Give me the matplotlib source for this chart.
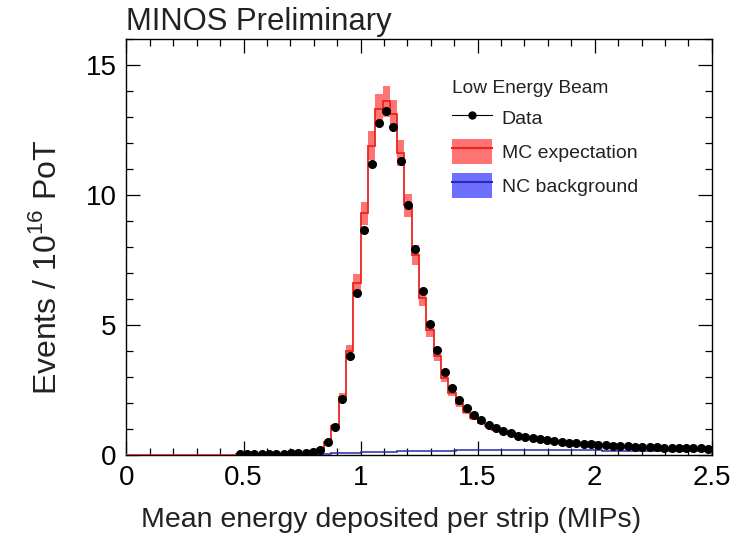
import numpy as np
import matplotlib.pyplot as plt
from matplotlib.lines import Line2D
from matplotlib.patches import Patch
from matplotlib.ticker import MultipleLocator

plt.rcParams['font.family'] = ['Liberation Sans', 'DejaVu Sans']
plt.rcParams['mathtext.fontset'] = 'custom'
plt.rcParams['mathtext.rm'] = 'Liberation Sans'

# 80 bins from 0 to 2.5 MIPs
n_bins = 80
x_max = 2.5

# data points start at bin 15 (0.48 MIPs)
data_first_bin = 15
data = [0.04, 0.04, 0.04, 0.04, 0.05, 0.05, 0.05, 0.06, 0.07, 0.09,
        0.13, 0.21, 0.49, 1.09, 2.15, 3.82, 6.22, 8.65, 11.2, 12.78,
        13.23, 12.63, 11.3, 9.63, 7.91, 6.32, 5.04, 4.04, 3.2, 2.58,
        2.12, 1.79, 1.54, 1.35, 1.17, 1.03, 0.92, 0.83, 0.75, 0.70,
        0.64, 0.60, 0.56, 0.53, 0.50, 0.47, 0.45, 0.43, 0.41, 0.39,
        0.37, 0.36, 0.34, 0.33, 0.32, 0.31, 0.30, 0.29, 0.28, 0.28,
        0.27, 0.27, 0.26, 0.26, 0.25]

# MC expectation, all 80 bins
mc = [0.0] * 15 + [
    0.03, 0.03, 0.03, 0.04, 0.04, 0.05, 0.05, 0.06, 0.07, 0.09,
    0.13, 0.22, 0.50, 1.10, 2.24, 4.0, 6.6, 9.3, 11.9, 13.3,
    13.6, 13.1, 11.6, 9.6, 7.7, 6.05, 4.8, 3.8, 2.98, 2.4,
    1.97, 1.66, 1.42, 1.25, 1.1, 0.98, 0.88, 0.80, 0.73, 0.67,
    0.62, 0.58, 0.55, 0.52, 0.49, 0.46, 0.44, 0.42, 0.40, 0.38,
    0.36, 0.35, 0.33, 0.32, 0.31, 0.30, 0.29, 0.28, 0.28, 0.27,
    0.27, 0.26, 0.26, 0.25, 0.25]

mc_err = [0.0] * 15 + [
    0.01, 0.01, 0.01, 0.01, 0.01, 0.01, 0.01, 0.01, 0.01, 0.02,
    0.02, 0.03, 0.05, 0.08, 0.15, 0.25, 0.35, 0.45, 0.55, 0.6,
    0.6, 0.55, 0.5, 0.45, 0.38, 0.3, 0.25, 0.2, 0.16, 0.13,
    0.11, 0.09, 0.08, 0.07, 0.06, 0.05, 0.05, 0.04, 0.04, 0.04,
    0.03, 0.03, 0.03, 0.03, 0.03, 0.03, 0.02, 0.02, 0.02, 0.02,
    0.02, 0.02, 0.02, 0.02, 0.02, 0.02, 0.02, 0.02, 0.02, 0.02,
    0.02, 0.02, 0.02, 0.02, 0.02]

# NC background, starts at bin 24 (0.75 MIPs)
nc_first_bin = 24
nc = [0.02, 0.03, 0.04, 0.05, 0.06, 0.07, 0.08, 0.09, 0.11, 0.12,
      0.12, 0.13, 0.13, 0.14, 0.14, 0.15, 0.15, 0.16, 0.16, 0.17,
      0.17, 0.18, 0.18, 0.18, 0.19, 0.19, 0.19, 0.2, 0.2, 0.2,
      0.2, 0.2, 0.2, 0.19, 0.19, 0.19, 0.19, 0.18, 0.18, 0.18,
      0.18, 0.17, 0.17, 0.17, 0.17, 0.16, 0.16, 0.16, 0.16, 0.15,
      0.15, 0.15, 0.15, 0.15, 0.14, 0.14]

edges = np.linspace(0, x_max, n_bins + 1)
centers = 0.5 * (edges[:-1] + edges[1:])
mc = np.array(mc)
mc_err = np.array(mc_err)

fig = plt.figure(figsize=(7.47, 5.42), dpi=100)
ax = fig.add_axes([0.1693, 0.1605, 0.7835, 0.7675])

red_band = '#ff5a5a'
red_line = '#e8261f'
blue_band = '#5555ff'
blue_line = '#2a2aa8'

# MC error band
for lo, hi, v, e in zip(edges[:-1], edges[1:], mc, mc_err):
    if e > 0:
        ax.fill_between([lo, hi], v - e, v + e, color=red_band, alpha=0.85,
                        linewidth=0, zorder=2)

ax.stairs(mc, edges, color=red_line, linewidth=1.3, zorder=3)
ax.stairs(nc, edges[nc_first_bin:nc_first_bin + len(nc) + 1],
          color=blue_line, linewidth=1.1, zorder=3, baseline=None)

xd = centers[data_first_bin:data_first_bin + len(data)]
ax.plot(xd, data, 'o', color='black', markersize=5.5, zorder=5)

ax.set_xlim(0, x_max)
ax.set_ylim(0, 16)
ax.xaxis.set_major_locator(MultipleLocator(0.5))
ax.xaxis.set_minor_locator(MultipleLocator(0.1))
ax.yaxis.set_major_locator(MultipleLocator(5))
ax.yaxis.set_minor_locator(MultipleLocator(1))
ax.tick_params(which='both', direction='in', top=True, right=True,
               labelsize=20, width=0.9)
ax.tick_params(which='major', length=10, pad=7)
ax.tick_params(which='minor', length=5)
ax.set_xticks([0, 0.5, 1, 1.5, 2, 2.5])
ax.set_xticklabels(['0', '0.5', '1', '1.5', '2', '2.5'])
for s in ax.spines.values():
    s.set_linewidth(1.0)

ax.set_xlabel('Mean energy deposited per strip (MIPs)', fontsize=20.5,
              color='#222222')
ax.xaxis.set_label_coords(0.452, -0.125)
ax.set_ylabel('Events / 10$^{16}$ PoT', fontsize=23, color='#222222')
ax.yaxis.set_label_coords(-0.108, 0.45)

ax.text(0.0, 1.005, 'MINOS Preliminary', transform=ax.transAxes,
        ha='left', va='bottom', fontsize=22.3, color='#222222')

h_data = Line2D([], [], color='black', marker='o', markersize=5,
                linewidth=0.8)
h_mc = (Patch(facecolor=red_band, alpha=0.85),
        Line2D([], [], color=red_line, linewidth=1.5))
h_nc = (Patch(facecolor=blue_band, alpha=0.85),
        Line2D([], [], color=blue_line, linewidth=1.5))
leg = ax.legend([h_data, h_mc, h_nc], ['Data', 'MC expectation', 'NC background'],
                title='Low Energy Beam', loc='upper left',
                bbox_to_anchor=(0.53, 0.94), frameon=False, fontsize=14,
                title_fontsize=13.8, alignment='left', handlelength=2.05,
                handleheight=1.6, labelspacing=0.45, handletextpad=0.5,
                borderpad=0.3)
for t in leg.get_texts():
    t.set_color('#222222')
leg.get_title().set_color('#222222')

fig.savefig('out.png', dpi=100)
